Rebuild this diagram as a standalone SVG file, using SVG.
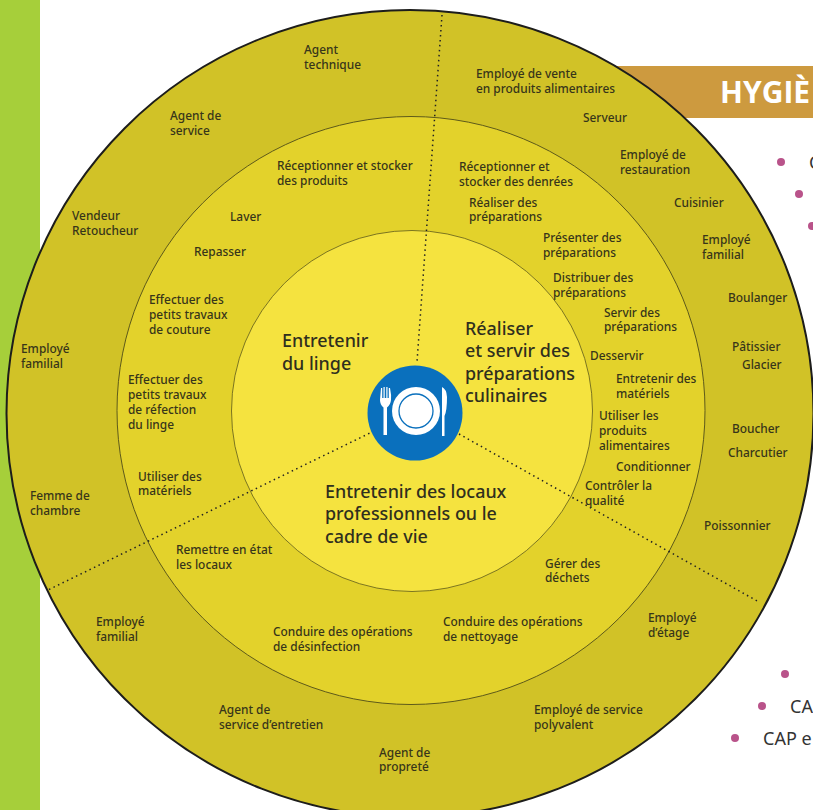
<svg xmlns="http://www.w3.org/2000/svg" width="813" height="810" viewBox="0 0 813 810">
<style>
.a{font-family:"Noto Sans","Open Sans",sans-serif;font-size:11.9px;font-weight:500;fill:#37351a}
.b{font-family:"Noto Sans","Open Sans",sans-serif;font-size:17.900px;font-weight:500;fill:#2f2f1e}
.c{font-family:"Noto Sans","Open Sans",sans-serif;font-size:18px;fill:#333}
.d{fill:#b9538a}
.l{fill:none;stroke:#222;stroke-width:1.5;stroke-dasharray:1.500 3.500}
</style>
<rect width="813" height="810" fill="#fff"/>
<rect width="40" height="810" fill="#a6cf3a"/>
<rect x="600" y="66" width="213" height="52" fill="#cd9a3f"/>
<text x="720" y="103" font-family="Open Sans,sans-serif" font-weight="700" font-size="30" fill="#fff">HYGIÈ</text>
<circle class="d" cx="781" cy="162" r="4"/><circle class="d" cx="799" cy="194" r="4"/><circle class="d" cx="812" cy="226" r="4"/>
<circle class="d" cx="785" cy="674" r="4"/><circle class="d" cx="762" cy="706" r="4"/><circle class="d" cx="735" cy="738" r="4"/>
<text class="c" x="809" y="169">C</text><text class="c" x="790" y="713">CA</text><text class="c" x="763" y="745">CAP e</text>
<g id="ring-outer"><circle cx="410" cy="413.500" r="403.500" fill="#d1c227" stroke="#1d1d1b" stroke-width="2"/></g>
<g id="ring-middle"><circle cx="411" cy="410.500" r="294" fill="#e3d22b" stroke="#5e5a1a" stroke-width="1"/></g>
<g id="ring-inner"><circle cx="412" cy="411" r="180.500" fill="#f5e33f" stroke="#5e5a1a" stroke-width=".8"/></g>
<g id="connectors">
<path class="l" d="M442 15L417 362"/><path class="l" d="M49 589.500L370 433"/><path class="l" d="M459 434L759 602"/>
</g>
<g id="icon">
<circle cx="415" cy="413" r="47.500" fill="#0a70bd"/>
<circle cx="416" cy="411" r="24" fill="#fff"/>
<circle cx="416" cy="411" r="17" fill="none" stroke="#0a70bd" stroke-width="1.300"/>
<path fill="#fff" d="M381 388h1.200v10h1.300v-11h1.200v11h1.600v-11h1.200v11h1.300v-10h1.200q1.500 7 1 12t-4 7.500v27.500h-3.500v-27.500q-3.500-3-3.500-7.500zM442 387q4.500 2 5 10 0 14-2.500 19v20h-2.500z"/>
</g>
<g id="center-labels">
<text class="b"><tspan x="282" y="347">Entretenir</tspan><tspan x="282" y="370">du linge</tspan></text>
<text class="b"><tspan x="465" y="335">Réaliser</tspan><tspan x="465" y="357">et servir des</tspan><tspan x="465" y="380">préparations</tspan><tspan x="465" y="402">culinaires</tspan></text>
<text class="b"><tspan x="325" y="498">Entretenir des locaux</tspan><tspan x="325" y="520">professionnels ou le</tspan><tspan x="325" y="543">cadre de vie</tspan></text>
</g>
<g id="labels">
<text class="a"><tspan x="304" y="54">Agent</tspan><tspan x="304" y="69">technique</tspan></text>
<text class="a"><tspan x="476" y="78">Employé de vente</tspan><tspan x="476" y="93">en produits alimentaires</tspan></text>
<text class="a" x="583" y="122">Serveur</text>
<text class="a"><tspan x="170" y="120">Agent de</tspan><tspan x="170" y="135">service</tspan></text>
<text class="a"><tspan x="620" y="159">Employé de</tspan><tspan x="620" y="174">restauration</tspan></text>
<text class="a" x="674" y="207">Cuisinier</text>
<text class="a"><tspan x="702" y="244">Employé</tspan><tspan x="702" y="259">familial</tspan></text>
<text class="a" x="728" y="302">Boulanger</text>
<text class="a" x="732" y="351">Pâtissier</text><text class="a" x="742" y="369">Glacier</text>
<text class="a" x="732" y="433">Boucher</text><text class="a" x="728" y="457">Charcutier</text>
<text class="a" x="704" y="530">Poissonnier</text>
<text class="a"><tspan x="648" y="622">Employé</tspan><tspan x="648" y="637">d’étage</tspan></text>
<text class="a"><tspan x="534" y="714">Employé de service</tspan><tspan x="534" y="729">polyvalent</tspan></text>
<text class="a"><tspan x="379" y="757">Agent de</tspan><tspan x="379" y="771">propreté</tspan></text>
<text class="a"><tspan x="219" y="714">Agent de</tspan><tspan x="219" y="729">service d’entretien</tspan></text>
<text class="a"><tspan x="96" y="626">Employé</tspan><tspan x="96" y="641">familial</tspan></text>
<text class="a"><tspan x="30" y="500">Femme de</tspan><tspan x="30" y="515">chambre</tspan></text>
<text class="a"><tspan x="21" y="353">Employé</tspan><tspan x="21" y="368">familial</tspan></text>
<text class="a"><tspan x="72" y="220">Vendeur</tspan><tspan x="72" y="235">Retoucheur</tspan></text>
<text class="a"><tspan x="277" y="170">Réceptionner et stocker</tspan><tspan x="277" y="185">des produits</tspan></text>
<text class="a" x="230" y="221">Laver</text>
<text class="a" x="194" y="256">Repasser</text>
<text class="a"><tspan x="149" y="304">Effectuer des</tspan><tspan x="149" y="319">petits travaux</tspan><tspan x="149" y="334">de couture</tspan></text>
<text class="a"><tspan x="128" y="384">Effectuer des</tspan><tspan x="128" y="399">petits travaux</tspan><tspan x="128" y="414">de réfection</tspan><tspan x="128" y="429">du linge</tspan></text>
<text class="a"><tspan x="138" y="481">Utiliser des</tspan><tspan x="138" y="495">matériels</tspan></text>
<text class="a"><tspan x="176" y="554">Remettre en état</tspan><tspan x="176" y="569">les locaux</tspan></text>
<text class="a"><tspan x="273" y="636">Conduire des opérations</tspan><tspan x="273" y="651">de désinfection</tspan></text>
<text class="a"><tspan x="443" y="626">Conduire des opérations</tspan><tspan x="443" y="641">de nettoyage</tspan></text>
<text class="a"><tspan x="545" y="568">Gérer des</tspan><tspan x="545" y="582">déchets</tspan></text>
<text class="a"><tspan x="585" y="490">Contrôler la</tspan><tspan x="585" y="505">qualité</tspan></text>
<text class="a" x="616" y="471">Conditionner</text>
<text class="a"><tspan x="599" y="420">Utiliser les</tspan><tspan x="599" y="435">produits</tspan><tspan x="599" y="450">alimentaires</tspan></text>
<text class="a"><tspan x="616" y="383">Entretenir des</tspan><tspan x="616" y="398">matériels</tspan></text>
<text class="a" x="590" y="360">Desservir</text>
<text class="a"><tspan x="604" y="317">Servir des</tspan><tspan x="604" y="331">préparations</tspan></text>
<text class="a"><tspan x="553" y="282">Distribuer des</tspan><tspan x="553" y="297">préparations</tspan></text>
<text class="a"><tspan x="543" y="242">Présenter des</tspan><tspan x="543" y="257">préparations</tspan></text>
<text class="a"><tspan x="469" y="207">Réaliser des</tspan><tspan x="469" y="221">préparations</tspan></text>
<text class="a"><tspan x="459" y="171">Réceptionner et</tspan><tspan x="459" y="186">stocker des denrées</tspan></text>
</g>
</svg>
